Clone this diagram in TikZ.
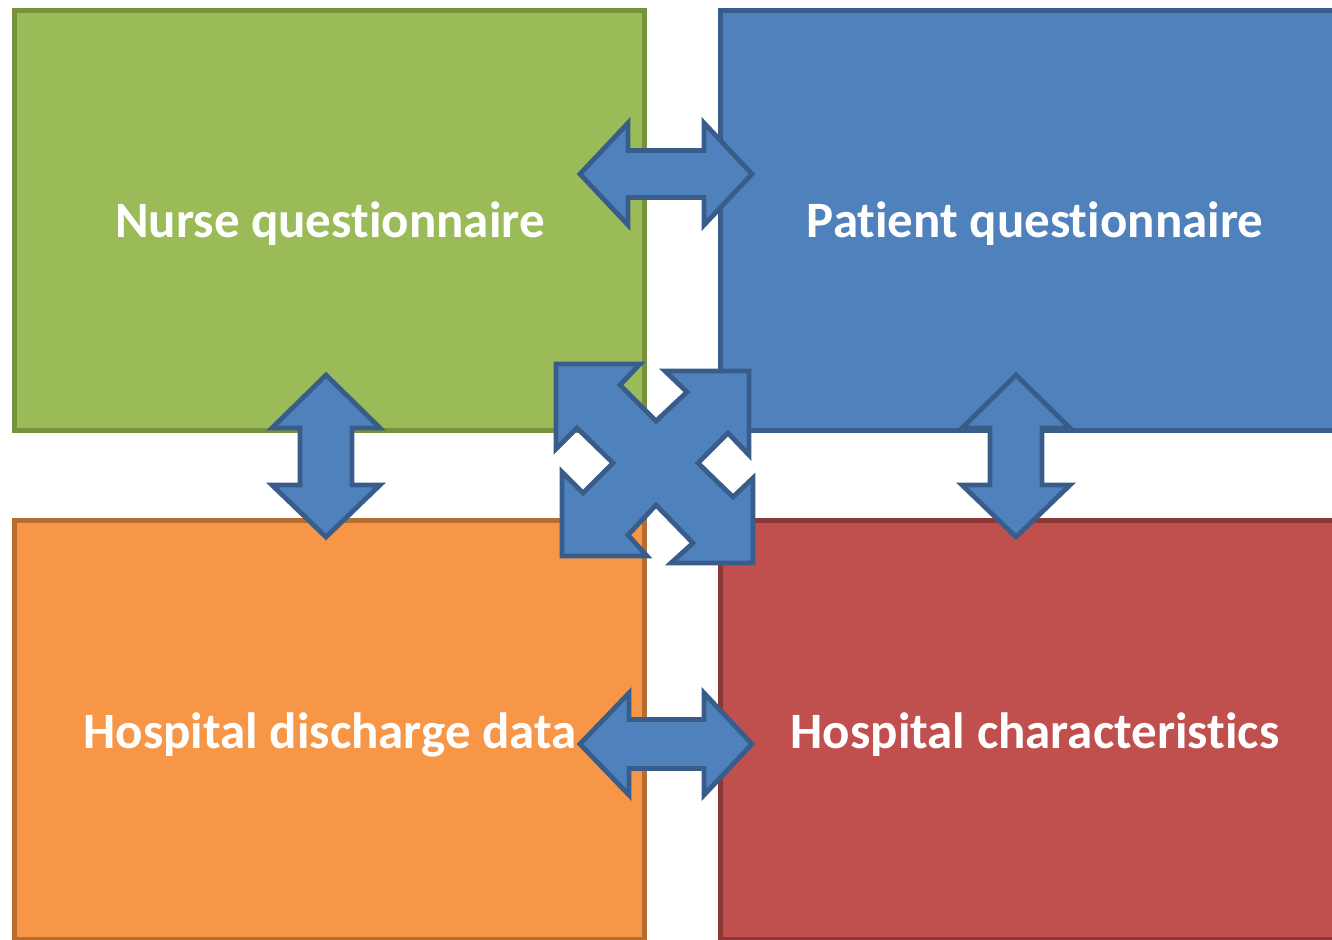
\documentclass[tikz,border=0pt]{standalone}
\usepackage{fontspec}
\setmainfont{Carlito}[RawFeature={-liga;-clig;-calt;-dlig}]
\newcommand{\tI}{t\kern0pt i}
\definecolor{gfill}{HTML}{9BBB59}\definecolor{gline}{HTML}{76923C}
\definecolor{bfill}{HTML}{4F81BD}\definecolor{bline}{HTML}{385D8A}
\definecolor{ofill}{HTML}{F79646}\definecolor{oline}{HTML}{B66D31}
\definecolor{rfill}{HTML}{C0504D}\definecolor{rline}{HTML}{8C3836}
\tikzset{
  box/.style={line width=2.5pt},
  lbl/.style={text=white,font=\bfseries\fontsize{25.5}{30}\selectfont,inner sep=0pt},
  blockarrow/.style={fill=bfill,draw=bline,line width=2.4pt,line join=miter}
}
\begin{document}
\begin{tikzpicture}[x=0.5pt,y=-0.5pt]
\useasboundingbox (0,0) rectangle (1332,939);
\clip (0,0) rectangle (1332,939);
% boxes
\draw[box,fill=gfill,draw=gline] (14.5,10) rectangle (644,430);
\draw[box,fill=bfill,draw=bline] (720,10) rectangle (1352,430);
\draw[box,fill=ofill,draw=oline] (14.5,520) rectangle (644,939);
\draw[box,fill=rfill,draw=rline] (720,520) rectangle (1352,939);
% labels
\node[lbl] (nurse) at (330,224) {Nurse ques\tI onnaire};
\node[lbl] (patient) at (1035,224) {Pa\tI ent ques\tI onnaire};
\node[lbl] (discharge) at (330,735) {Hospital discharge data};
\node[lbl] (charac) at (1035,735) {Hospital characteris\tI cs};
% horizontal double arrows
\draw[blockarrow] (580,174) -- (628,123) -- (628,150.5) -- (704,150.5) -- (704,123) -- (752,174)
  -- (704,225) -- (704,197.5) -- (628,197.5) -- (628,225) -- cycle;
\draw[blockarrow] (580,744) -- (629,693) -- (629,719.5) -- (704,719.5) -- (704,693) -- (752,744)
  -- (704,795) -- (704,768.5) -- (629,768.5) -- (629,795) -- cycle;
% vertical double arrows
\foreach \cx in {326,1016}{
\draw[blockarrow] (\cx,375) -- (\cx+54,428) -- (\cx+26,428) -- (\cx+26,485) -- (\cx+54,485) -- (\cx,537)
  -- (\cx-54,485) -- (\cx-26,485) -- (\cx-26,428) -- (\cx-54,428) -- cycle;
}
% central quad arrow
\draw[blockarrow] (556,364) -- (640,364) -- (620,385) -- (656,421) -- (687,392) -- (665,371)
  -- (749,371) -- (749,455) -- (728,433) -- (698,463) -- (733,497) -- (753,478)
  -- (753,563) -- (671,563) -- (693,543) -- (656,505) -- (628,535) -- (647,556)
  -- (562,556) -- (562,472) -- (583,493) -- (613,463) -- (577,428) -- (556,449) -- cycle;
\end{tikzpicture}
\end{document}
